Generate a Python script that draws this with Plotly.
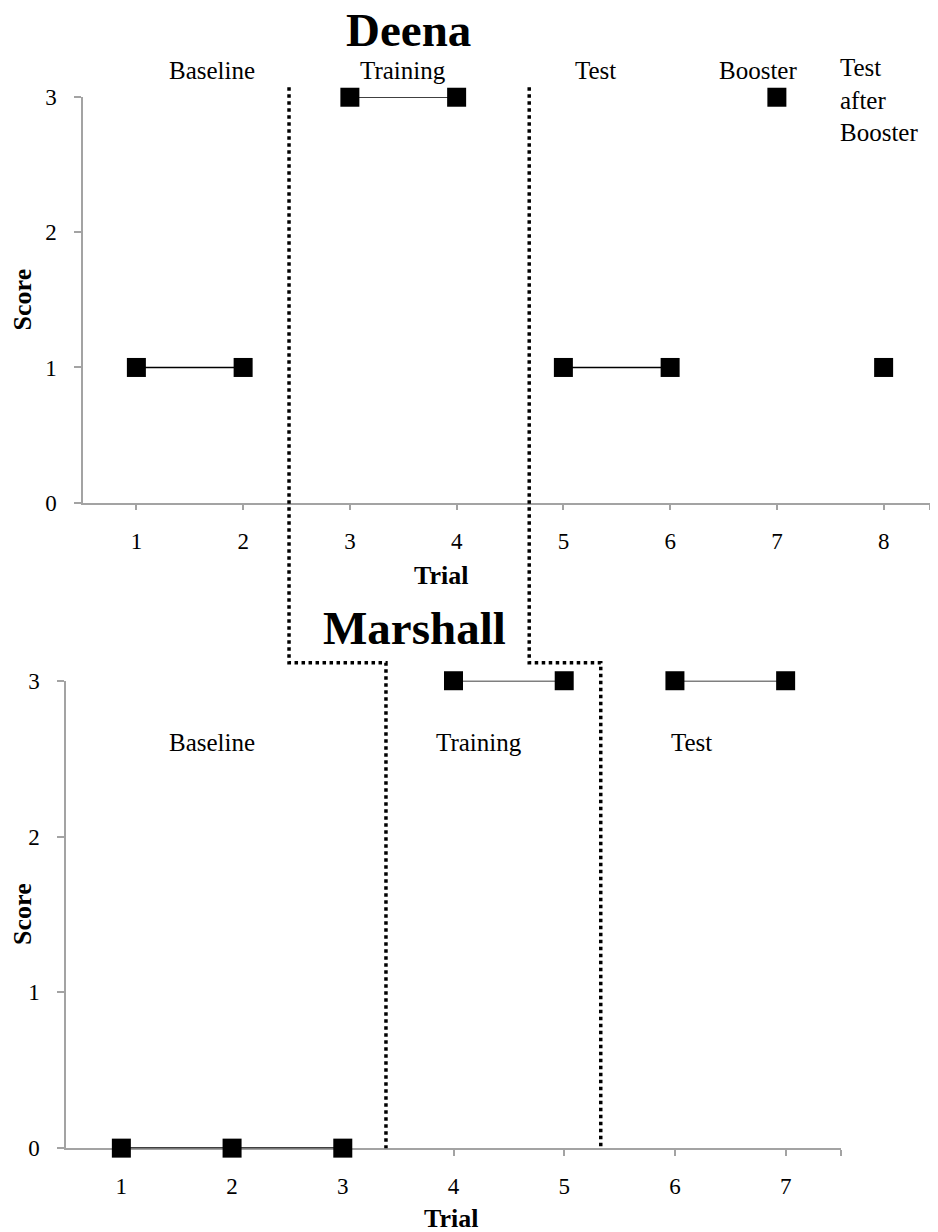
import plotly.graph_objects as go

# ---------------- data ----------------
deena_trials = [1, 2, 3, 4, 5, 6, 7, 8]
deena_scores = [1, 1, 3, 3, 1, 1, 3, 1]
deena_phase_of_trial = ["Baseline", "Baseline", "Training", "Training",
                        "Test", "Test", "Booster", "Test after Booster"]
deena_phase_labels = ["Baseline", "Training", "Test", "Booster", "Test<br>after<br>Booster"]
deena_phase_label_x = [1.71, 3.5, 5.3, 6.82, 7.57]
deena_phase_breaks = [2.43, 4.68]

marshall_trials = [1, 2, 3, 4, 5, 6, 7]
marshall_scores = [0, 0, 0, 3, 3, 3, 3]
marshall_phase_of_trial = ["Baseline", "Baseline", "Baseline", "Training",
                           "Training", "Test", "Test"]
marshall_phase_labels = ["Baseline", "Training", "Test"]
marshall_phase_label_x = [1.82, 4.23, 6.15]
marshall_phase_breaks = [3.39, 5.33]

score_ticks = [0, 1, 2, 3]

# ---------------- layout helpers ----------------
OFF = 8                      # default page margin around the figure
W, H = 938 - 2 * OFF, 1240
SERIF = "Liberation Serif"
AXIS_GREY = "#a3a3a3"
# observed vertical mapping of the page onto the final picture
VSCALE, VSHIFT = 0.979, 12.0


def px(p):
    return (p - OFF) / W


def py(p):
    page = (p - VSHIFT) / VSCALE
    return 1 - (page - OFF) / H


# top panel: full 8-trial span would reach 937px; clip to the figure edge
top_left, top_right_full = px(83), px(937)
top_right = min(1.0, top_right_full)
top_xdom = [top_left, top_right]
top_xrng = [0.5, 0.5 + 8 * (top_right - top_left) / (top_right_full - top_left)]
top_ydom = [py(502), py(97)]
bot_xdom = [px(66), px(841)]
bot_ydom = [py(1147), py(680)]
bot_xrng = [0.5, 7.5]


def x_to_paper(v, dom, rng):
    return dom[0] + (v - rng[0]) / (rng[1] - rng[0]) * (dom[1] - dom[0])


fig = go.Figure()


def add_phases(trials, scores, phases, xa, ya):
    seen = []
    for ph in phases:
        if ph not in seen:
            seen.append(ph)
    for ph in seen:
        xs = [t for t, p in zip(trials, phases) if p == ph]
        ys = [s for s, p in zip(scores, phases) if p == ph]
        fig.add_trace(go.Scatter(
            x=xs, y=ys, mode="lines+markers", xaxis=xa, yaxis=ya,
            line=dict(color="black", width=1.6),
            marker=dict(symbol="square", size=19, color="black"),
            cliponaxis=False, showlegend=False, hoverinfo="x+y"))


add_phases(deena_trials, deena_scores, deena_phase_of_trial, "x", "y")
add_phases(marshall_trials, marshall_scores, marshall_phase_of_trial, "x2", "y2")

tickfont = dict(family=SERIF, size=23, color="black")
xcommon = dict(showline=True, linecolor=AXIS_GREY, linewidth=1.5, ticks="outside",
               ticklen=6, tickcolor=AXIS_GREY, tickwidth=1.5, showgrid=False,
               zeroline=False, tickfont=tickfont, ticklabelstandoff=11,
               layer="below traces", fixedrange=True)
ycommon = dict(showline=True, linecolor=AXIS_GREY, linewidth=1.5, ticks="outside",
               ticklen=7, tickcolor=AXIS_GREY, tickwidth=1.5, showgrid=False,
               zeroline=False, tickfont=tickfont, ticklabelstandoff=13,
               range=[0, 3], tickvals=score_ticks, layer="below traces",
               ticktext=[str(v) for v in score_ticks], fixedrange=True)

fig.update_layout(
    width=W, height=H, margin=dict(l=0, r=0, t=0, b=0),
    paper_bgcolor="white", plot_bgcolor="white",
    xaxis=dict(xcommon, domain=top_xdom, range=top_xrng, anchor="y",
               tickvals=deena_trials + [top_xrng[1]],
               ticktext=[str(t) for t in deena_trials] + [""]),
    yaxis=dict(ycommon, domain=top_ydom, anchor="x"),
    xaxis2=dict(xcommon, domain=bot_xdom, range=bot_xrng, anchor="y2",
                tickvals=marshall_trials + [bot_xrng[1]],
                ticktext=[str(t) for t in marshall_trials] + [""]),
    yaxis2=dict(ycommon, domain=bot_ydom, anchor="x2"),
)

# ---------------- phase-change dotted lines ----------------
y_top = py(87)
y_knee = py(662)
y_bottom = bot_ydom[0]
for db, mb in zip(deena_phase_breaks, marshall_phase_breaks):
    xt = x_to_paper(db, top_xdom, top_xrng)
    xb = x_to_paper(mb, bot_xdom, bot_xrng)
    path = f"M {xt},{y_top} L {xt},{y_knee} L {xb},{y_knee} L {xb},{y_bottom}"
    fig.add_shape(type="path", path=path, xref="paper", yref="paper",
                  line=dict(color="black", width=3.5, dash="dot"))

# ---------------- annotations ----------------
ann = []


def label(text, x, y, font, xref="paper", yref="paper", **kw):
    d = dict(text=text, x=x, y=y, xref=xref, yref=yref, showarrow=False, font=font,
             xanchor="center", yanchor="middle")
    d.update(kw)
    ann.append(d)


title_big = dict(family=SERIF, size=47, color="black")
label("<b>Deena</b>", px(408), py(30), title_big)
label("<b>Marshall</b>", px(414), py(627), title_big)

phase_font = dict(family=SERIF, size=25, color="black")
for lab, xv in zip(deena_phase_labels, deena_phase_label_x):
    if "<br>" in lab:
        label(lab, xv, py(69), phase_font, xref="x", xanchor="left",
              yanchor="top", yshift=17, align="left")
    else:
        label(lab, xv, py(70), phase_font, xref="x")
for lab, xv in zip(marshall_phase_labels, marshall_phase_label_x):
    label(lab, xv, py(742), phase_font, xref="x2")

title_font = dict(family=SERIF, size=26, color="black")
label("<b>Trial</b>", px(441), py(575), title_font)
label("<b>Trial</b>", px(451), py(1217), title_font)
label("<b>Score</b>", px(22), py(299), title_font, textangle=-90)
label("<b>Score</b>", px(23), py(913), title_font, textangle=-90)
fig.update_layout(annotations=ann)

fig.write_html("out.html")
